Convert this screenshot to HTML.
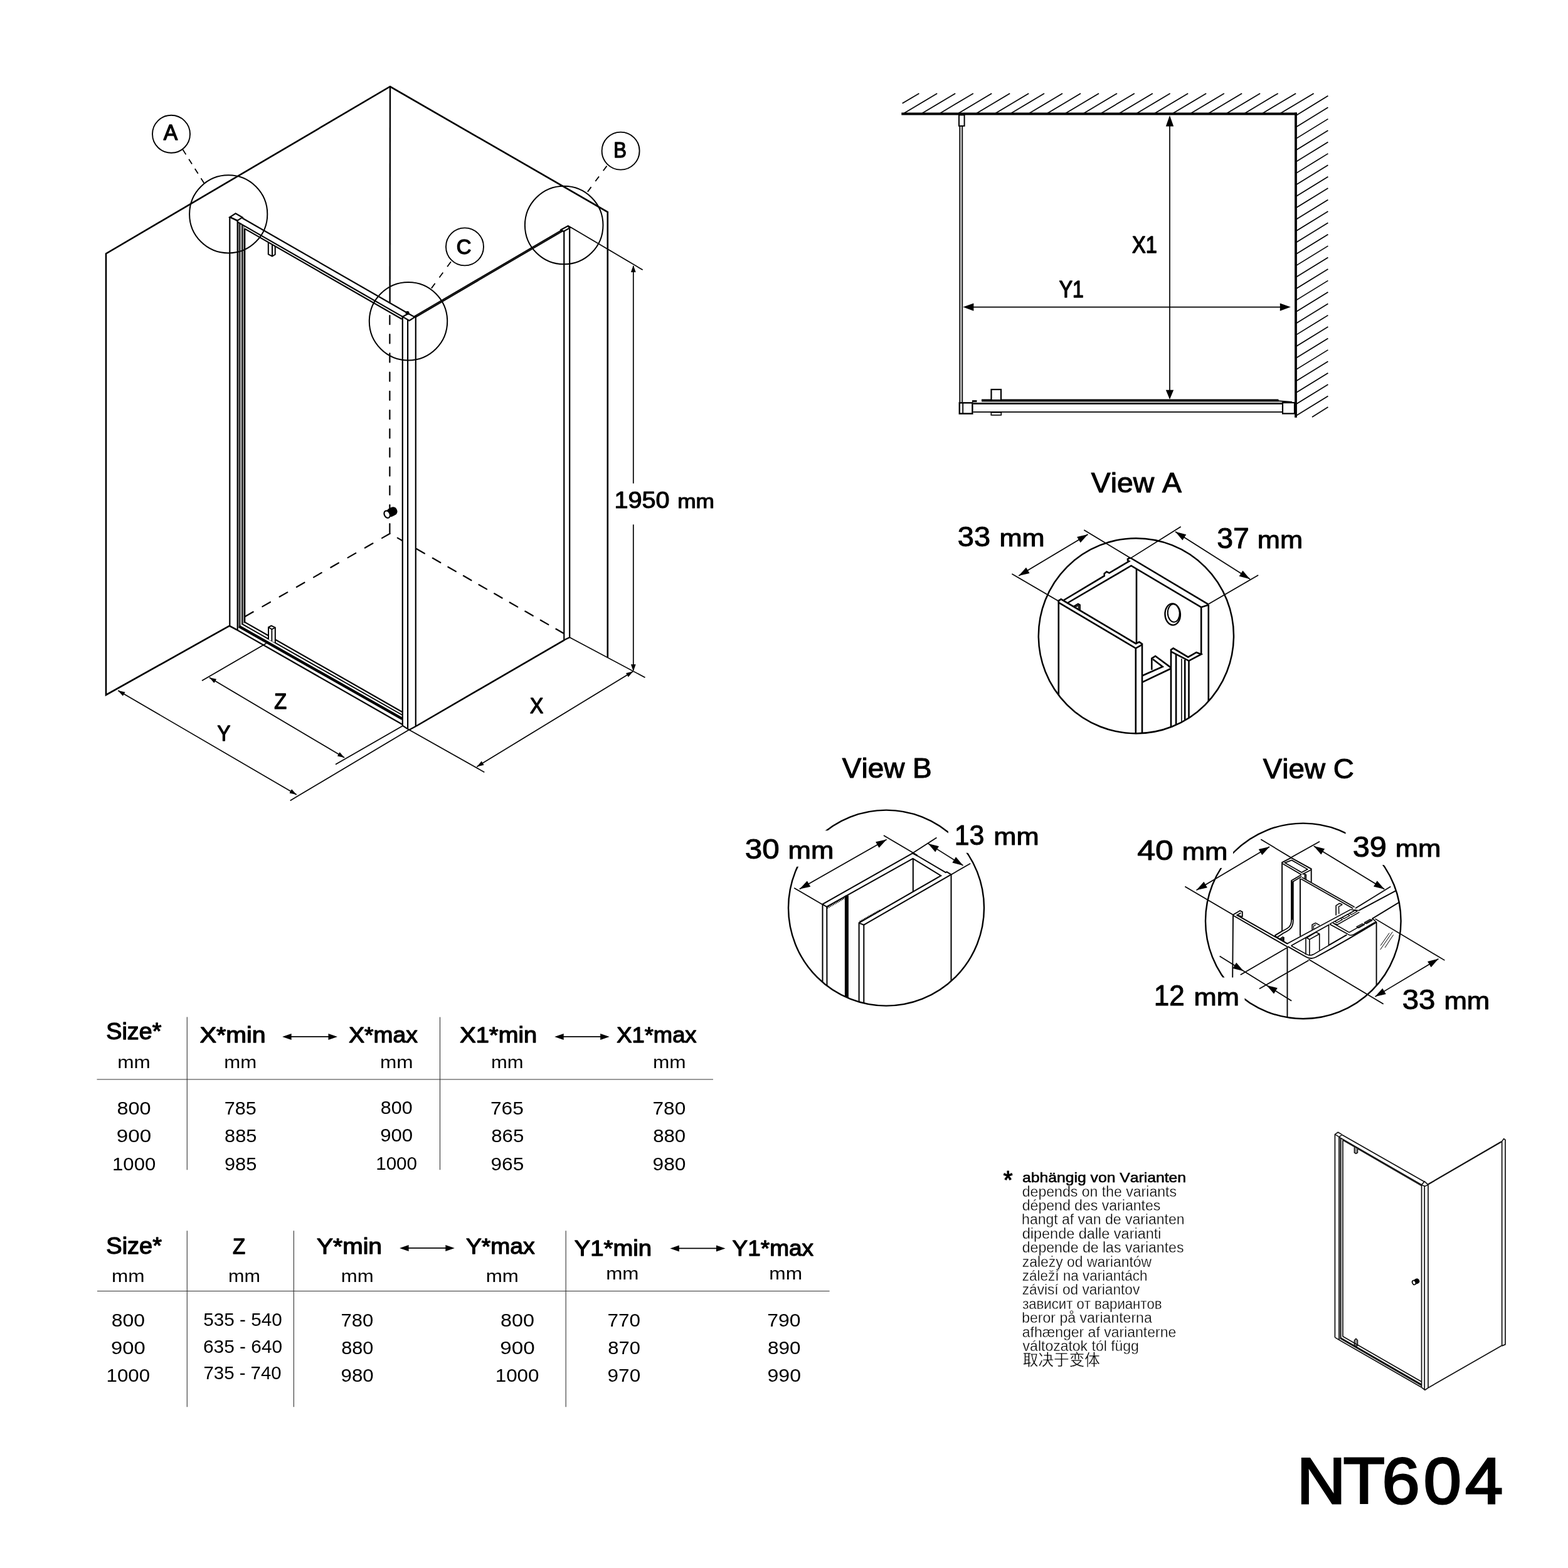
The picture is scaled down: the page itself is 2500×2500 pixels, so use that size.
<!DOCTYPE html>
<html lang="de">
<head>
<meta charset="utf-8">
<title>NT604</title>
<style>
html,body{margin:0;padding:0;background:#fff;}
body{width:2500px;height:2500px;font-family:"Liberation Sans","Noto Sans CJK SC",sans-serif;}
svg{display:block;will-change:transform;}
text{white-space:pre;font-kerning:none;}
</style>
</head>
<body>
<svg xmlns="http://www.w3.org/2000/svg" width="2500" height="2500" viewBox="0 0 2500 2500">
<defs>
<clipPath id="cA"><circle cx="1811.4" cy="1013.8" r="155.6"/></clipPath>
<clipPath id="cB"><circle cx="1413.0" cy="1447.6" r="156.0"/></clipPath>
<clipPath id="cC"><circle cx="2077.8" cy="1468.4" r="155.8"/></clipPath>
</defs>
<rect x="0" y="0" width="2500" height="2500" fill="#fff"/>
<polyline points="365.80,997.80 169.00,1108.00 169.00,404.50 622.00,138.00 968.80,338.00 968.80,1048.00" fill="none" stroke="#000" stroke-width="2.6" stroke-linejoin="miter" stroke-linecap="butt"/>
<line x1="622.00" y1="138.00" x2="621.60" y2="484.00" stroke="#000" stroke-width="2.4" stroke-linecap="butt"/>
<line x1="621.40" y1="503.00" x2="621.40" y2="851.00" stroke="#000" stroke-width="2.2" stroke-linecap="round" stroke-dasharray="14.2 16.0"/>
<line x1="621.70" y1="850.70" x2="390.90" y2="982.90" stroke="#000" stroke-width="2.2" stroke-linecap="round" stroke-dasharray="14.5 16.9"/>
<line x1="633.80" y1="857.65" x2="641.00" y2="861.79" stroke="#000" stroke-width="2.2" stroke-linecap="round"/>
<line x1="664.00" y1="875.00" x2="677.00" y2="882.47" stroke="#000" stroke-width="2.2" stroke-linecap="round"/>
<line x1="689.80" y1="889.82" x2="898.50" y2="1009.71" stroke="#000" stroke-width="2.2" stroke-linecap="round" stroke-dasharray="14.4 13.95"/>
<rect x="379.50" y="356.00" width="3.00" height="643.00" fill="#8a8a8a"/>
<rect x="386.50" y="360.00" width="3.60" height="634.00" fill="#8a8a8a"/>
<line x1="366.30" y1="345.70" x2="366.30" y2="998.00" stroke="#000" stroke-width="2.2" stroke-linecap="butt"/>
<line x1="378.70" y1="351.50" x2="378.70" y2="1004.00" stroke="#000" stroke-width="2.2" stroke-linecap="butt"/>
<line x1="382.50" y1="356.00" x2="382.50" y2="1000.00" stroke="#000" stroke-width="1.8" stroke-linecap="butt"/>
<line x1="386.00" y1="358.20" x2="386.00" y2="996.00" stroke="#000" stroke-width="1.8" stroke-linecap="butt"/>
<line x1="390.20" y1="364.60" x2="390.20" y2="992.00" stroke="#000" stroke-width="2.2" stroke-linecap="butt"/>
<polygon points="366.30,346.40 375.60,340.30 386.40,346.60 378.70,351.60" fill="#fff" stroke="#000" stroke-width="2.2" stroke-linejoin="miter" stroke-linecap="butt"/>
<line x1="366.30" y1="345.70" x2="378.70" y2="352.30" stroke="#000" stroke-width="2.2" stroke-linecap="butt"/>
<line x1="386.40" y1="347.80" x2="649.00" y2="498.70" stroke="#000" stroke-width="2.2" stroke-linecap="butt"/>
<line x1="378.70" y1="353.90" x2="641.80" y2="504.90" stroke="#000" stroke-width="2.2" stroke-linecap="butt"/>
<line x1="390.10" y1="364.60" x2="640.70" y2="508.80" stroke="#000" stroke-width="2.2" stroke-linecap="butt"/>
<polyline points="427.80,386.29 427.80,405.30 434.00,408.60 438.70,405.80 438.70,392.57" fill="none" stroke="#000" stroke-width="2.0" stroke-linejoin="miter" stroke-linecap="butt"/>
<line x1="434.00" y1="389.86" x2="434.00" y2="408.60" stroke="#000" stroke-width="2.0" stroke-linecap="butt"/>
<line x1="389.70" y1="991.60" x2="641.40" y2="1135.20" stroke="#000" stroke-width="2.2" stroke-linecap="butt"/>
<line x1="386.00" y1="994.90" x2="641.40" y2="1140.00" stroke="#000" stroke-width="1.9" stroke-linecap="butt"/>
<line x1="381.00" y1="998.60" x2="641.40" y2="1146.20" stroke="#000" stroke-width="4.4" stroke-linecap="butt"/>
<line x1="377.30" y1="1004.00" x2="641.40" y2="1155.00" stroke="#000" stroke-width="2.2" stroke-linecap="butt"/>
<line x1="365.80" y1="997.80" x2="377.60" y2="1004.20" stroke="#000" stroke-width="2.6" stroke-linecap="butt"/>
<polyline points="428.00,1019.50 428.00,1000.20 432.60,997.60 438.80,1000.60 438.80,1025.00" fill="#fff" stroke="#000" stroke-width="2.0" stroke-linejoin="miter" stroke-linecap="butt"/>
<polyline points="428.00,1000.20 433.40,1003.20 438.80,1000.60" fill="none" stroke="#000" stroke-width="1.8" stroke-linejoin="miter" stroke-linecap="butt"/>
<line x1="433.40" y1="1003.20" x2="433.40" y2="1022.00" stroke="#000" stroke-width="1.8" stroke-linecap="butt"/>
<line x1="641.80" y1="504.90" x2="641.80" y2="1157.00" stroke="#000" stroke-width="2.2" stroke-linecap="butt"/>
<line x1="650.10" y1="510.00" x2="650.10" y2="1163.00" stroke="#000" stroke-width="2.2" stroke-linecap="butt"/>
<line x1="662.80" y1="506.00" x2="662.80" y2="1158.20" stroke="#000" stroke-width="2.2" stroke-linecap="butt"/>
<polygon points="641.80,504.90 651.20,500.00 661.20,505.60 652.60,511.20" fill="#fff" stroke="#000" stroke-width="2.2" stroke-linejoin="miter" stroke-linecap="butt"/>
<circle cx="649.60" cy="499.00" r="2.30" fill="#000" stroke="#000" stroke-width="1.5"/>
<polyline points="641.80,1156.80 652.40,1163.80 663.00,1158.00" fill="none" stroke="#000" stroke-width="2.2" stroke-linejoin="miter" stroke-linecap="butt"/>
<line x1="661.00" y1="505.40" x2="896.60" y2="367.50" stroke="#000" stroke-width="4.0" stroke-linecap="butt"/>
<line x1="664.00" y1="503.65" x2="894.00" y2="369.00" stroke="#555" stroke-width="0.6" stroke-linecap="butt"/>
<line x1="663.00" y1="1158.00" x2="900.00" y2="1020.40" stroke="#000" stroke-width="2.6" stroke-linecap="butt"/>
<line x1="899.30" y1="369.00" x2="899.30" y2="1020.80" stroke="#000" stroke-width="2.2" stroke-linecap="butt"/>
<line x1="908.20" y1="364.50" x2="908.20" y2="1016.40" stroke="#000" stroke-width="2.2" stroke-linecap="butt"/>
<polygon points="894.50,366.30 905.10,360.50 908.80,363.20 898.60,369.00" fill="#fff" stroke="#000" stroke-width="2.2" stroke-linejoin="miter" stroke-linecap="butt"/>
<line x1="899.30" y1="1020.60" x2="908.20" y2="1016.20" stroke="#000" stroke-width="2.2" stroke-linecap="butt"/>
<circle cx="364.20" cy="341.40" r="62.10" fill="none" stroke="#000" stroke-width="2.0"/>
<circle cx="899.20" cy="359.00" r="62.30" fill="none" stroke="#000" stroke-width="2.0"/>
<circle cx="651.00" cy="512.30" r="62.20" fill="none" stroke="#000" stroke-width="2.0"/>
<circle cx="273.00" cy="213.80" r="30.00" fill="none" stroke="#000" stroke-width="1.9"/>
<circle cx="989.60" cy="240.60" r="30.00" fill="none" stroke="#000" stroke-width="1.9"/>
<circle cx="741.00" cy="393.40" r="30.00" fill="none" stroke="#000" stroke-width="1.9"/>
<line x1="291.50" y1="238.60" x2="325.60" y2="292.30" stroke="#000" stroke-width="1.8" stroke-linecap="butt" stroke-dasharray="9.2 8.8"/>
<line x1="967.50" y1="264.60" x2="936.30" y2="306.60" stroke="#000" stroke-width="1.8" stroke-linecap="butt" stroke-dasharray="9.6 11.3"/>
<line x1="719.00" y1="417.30" x2="687.90" y2="459.60" stroke="#000" stroke-width="1.8" stroke-linecap="butt" stroke-dasharray="9.9 11.5"/>
<g transform="translate(620.4 818.4) rotate(-27)"><rect x="-3.4" y="-6.9" width="17.2" height="13.8" rx="6.2" ry="6.9" fill="#000"/><ellipse cx="-3.6" cy="0" rx="4.4" ry="6.0" fill="#fff" stroke="#000" stroke-width="2.2"/></g>
<line x1="905.10" y1="359.50" x2="1024.70" y2="430.30" stroke="#000" stroke-width="1.7" stroke-linecap="butt"/>
<line x1="908.30" y1="1016.30" x2="1028.50" y2="1080.20" stroke="#000" stroke-width="1.7" stroke-linecap="butt"/>
<line x1="1009.80" y1="424.00" x2="1009.80" y2="770.70" stroke="#000" stroke-width="1.7" stroke-linecap="butt"/>
<line x1="1009.80" y1="836.30" x2="1009.80" y2="1069.00" stroke="#000" stroke-width="1.7" stroke-linecap="butt"/>
<polygon points="1009.80,422.90 1013.70,433.90 1005.90,433.90" fill="#000"/>
<polygon points="1009.80,1070.30 1005.90,1059.30 1013.70,1059.30" fill="#000"/>
<line x1="652.60" y1="1163.70" x2="772.30" y2="1231.20" stroke="#000" stroke-width="1.7" stroke-linecap="butt"/>
<line x1="760.30" y1="1222.40" x2="1009.30" y2="1070.60" stroke="#000" stroke-width="1.7" stroke-linecap="butt"/>
<polygon points="760.30,1222.40 767.82,1213.60 771.57,1219.75" fill="#000"/>
<polygon points="1009.30,1070.60 1001.78,1079.40 998.03,1073.25" fill="#000"/>
<line x1="651.80" y1="1163.70" x2="462.70" y2="1276.40" stroke="#000" stroke-width="1.7" stroke-linecap="butt"/>
<line x1="188.20" y1="1101.00" x2="472.80" y2="1267.00" stroke="#000" stroke-width="1.7" stroke-linecap="butt"/>
<polygon points="188.20,1101.00 199.52,1103.43 195.89,1109.65" fill="#000"/>
<polygon points="472.80,1267.00 461.48,1264.57 465.11,1258.35" fill="#000"/>
<line x1="424.50" y1="1025.70" x2="322.00" y2="1085.30" stroke="#000" stroke-width="1.7" stroke-linecap="butt"/>
<line x1="641.70" y1="1157.60" x2="535.00" y2="1218.80" stroke="#000" stroke-width="1.7" stroke-linecap="butt"/>
<line x1="333.80" y1="1080.20" x2="549.20" y2="1208.00" stroke="#000" stroke-width="1.7" stroke-linecap="butt"/>
<polygon points="333.80,1080.20 345.10,1082.72 341.42,1088.91" fill="#000"/>
<polygon points="549.20,1208.00 537.90,1205.48 541.58,1199.29" fill="#000"/>
<text transform="translate(260.63 223.00) scale(0.9763 1)" font-family="'Liberation Sans', sans-serif" font-size="34.45" font-weight="400" fill="#000" stroke="#000" stroke-width="1.4" stroke-linejoin="round">A</text>
<text transform="translate(978.36 250.90) scale(0.8742 1)" font-family="'Liberation Sans', sans-serif" font-size="35.47" font-weight="400" fill="#000" stroke="#000" stroke-width="1.4" stroke-linejoin="round">B</text>
<text transform="translate(727.83 405.00) scale(0.9825 1)" font-family="'Liberation Sans', sans-serif" font-size="33.43" font-weight="400" fill="#000" stroke="#000" stroke-width="1.4" stroke-linejoin="round">C</text>
<text transform="translate(437.17 1130.00) scale(0.9392 1)" font-family="'Liberation Sans', sans-serif" font-size="34.59" font-weight="400" fill="#000" stroke="#000" stroke-width="1.4" stroke-linejoin="round">Z</text>
<text transform="translate(346.61 1181.10) scale(0.9047 1)" font-family="'Liberation Sans', sans-serif" font-size="34.59" font-weight="400" fill="#000" stroke="#000" stroke-width="1.4" stroke-linejoin="round">Y</text>
<text transform="translate(844.98 1137.30) scale(0.8999 1)" font-family="'Liberation Sans', sans-serif" font-size="35.47" font-weight="400" fill="#000" stroke="#000" stroke-width="1.4" stroke-linejoin="round">X</text>
<text transform="translate(979.53 810.35) scale(1.0921 1)" font-family="'Liberation Sans', sans-serif" font-size="36.25" font-weight="400" fill="#000" stroke="#000" stroke-width="1.1" stroke-linejoin="round">1950</text>
<text transform="translate(1080.21 810.35) scale(1.1159 1)" font-family="'Liberation Sans', sans-serif" font-size="31.61" font-weight="400" fill="#000" stroke="#000" stroke-width="1.1" stroke-linejoin="round">mm</text>
<line x1="1438.70" y1="164.80" x2="1465.40" y2="148.90" stroke="#000" stroke-width="1.7" stroke-linecap="butt"/>
<line x1="1441.40" y1="180.50" x2="1494.20" y2="148.90" stroke="#000" stroke-width="1.7" stroke-linecap="butt"/>
<line x1="1470.40" y1="180.50" x2="1523.20" y2="148.90" stroke="#000" stroke-width="1.7" stroke-linecap="butt"/>
<line x1="1499.00" y1="180.50" x2="1551.80" y2="148.90" stroke="#000" stroke-width="1.7" stroke-linecap="butt"/>
<line x1="1528.40" y1="180.50" x2="1581.20" y2="148.90" stroke="#000" stroke-width="1.7" stroke-linecap="butt"/>
<line x1="1557.30" y1="180.50" x2="1610.10" y2="148.90" stroke="#000" stroke-width="1.7" stroke-linecap="butt"/>
<line x1="1587.40" y1="180.50" x2="1640.20" y2="148.90" stroke="#000" stroke-width="1.7" stroke-linecap="butt"/>
<line x1="1612.20" y1="180.50" x2="1665.00" y2="148.90" stroke="#000" stroke-width="1.7" stroke-linecap="butt"/>
<line x1="1641.20" y1="180.50" x2="1694.00" y2="148.90" stroke="#000" stroke-width="1.7" stroke-linecap="butt"/>
<line x1="1670.20" y1="180.50" x2="1723.00" y2="148.90" stroke="#000" stroke-width="1.7" stroke-linecap="butt"/>
<line x1="1699.20" y1="180.50" x2="1752.00" y2="148.90" stroke="#000" stroke-width="1.7" stroke-linecap="butt"/>
<line x1="1728.20" y1="180.50" x2="1781.00" y2="148.90" stroke="#000" stroke-width="1.7" stroke-linecap="butt"/>
<line x1="1756.00" y1="180.50" x2="1808.80" y2="148.90" stroke="#000" stroke-width="1.7" stroke-linecap="butt"/>
<line x1="1785.00" y1="180.50" x2="1837.80" y2="148.90" stroke="#000" stroke-width="1.7" stroke-linecap="butt"/>
<line x1="1812.80" y1="180.50" x2="1865.60" y2="148.90" stroke="#000" stroke-width="1.7" stroke-linecap="butt"/>
<line x1="1841.40" y1="180.50" x2="1894.20" y2="148.90" stroke="#000" stroke-width="1.7" stroke-linecap="butt"/>
<line x1="1870.40" y1="180.50" x2="1923.20" y2="148.90" stroke="#000" stroke-width="1.7" stroke-linecap="butt"/>
<line x1="1899.00" y1="180.50" x2="1951.80" y2="148.90" stroke="#000" stroke-width="1.7" stroke-linecap="butt"/>
<line x1="1927.30" y1="180.50" x2="1980.10" y2="148.90" stroke="#000" stroke-width="1.7" stroke-linecap="butt"/>
<line x1="1956.30" y1="180.50" x2="2009.10" y2="148.90" stroke="#000" stroke-width="1.7" stroke-linecap="butt"/>
<line x1="1984.90" y1="180.50" x2="2037.70" y2="148.90" stroke="#000" stroke-width="1.7" stroke-linecap="butt"/>
<line x1="2013.30" y1="180.50" x2="2066.10" y2="148.90" stroke="#000" stroke-width="1.7" stroke-linecap="butt"/>
<line x1="2041.80" y1="180.50" x2="2094.60" y2="148.90" stroke="#000" stroke-width="1.7" stroke-linecap="butt"/>
<line x1="2067.00" y1="183.80" x2="2117.40" y2="152.80" stroke="#000" stroke-width="1.7" stroke-linecap="butt"/>
<line x1="2067.00" y1="202.21" x2="2117.40" y2="171.21" stroke="#000" stroke-width="1.7" stroke-linecap="butt"/>
<line x1="2067.00" y1="220.62" x2="2117.40" y2="189.62" stroke="#000" stroke-width="1.7" stroke-linecap="butt"/>
<line x1="2067.00" y1="239.03" x2="2117.40" y2="208.03" stroke="#000" stroke-width="1.7" stroke-linecap="butt"/>
<line x1="2067.00" y1="257.45" x2="2117.40" y2="226.45" stroke="#000" stroke-width="1.7" stroke-linecap="butt"/>
<line x1="2067.00" y1="275.86" x2="2117.40" y2="244.86" stroke="#000" stroke-width="1.7" stroke-linecap="butt"/>
<line x1="2067.00" y1="294.27" x2="2117.40" y2="263.27" stroke="#000" stroke-width="1.7" stroke-linecap="butt"/>
<line x1="2067.00" y1="312.68" x2="2117.40" y2="281.68" stroke="#000" stroke-width="1.7" stroke-linecap="butt"/>
<line x1="2067.00" y1="331.09" x2="2117.40" y2="300.09" stroke="#000" stroke-width="1.7" stroke-linecap="butt"/>
<line x1="2067.00" y1="349.50" x2="2117.40" y2="318.50" stroke="#000" stroke-width="1.7" stroke-linecap="butt"/>
<line x1="2067.00" y1="367.92" x2="2117.40" y2="336.92" stroke="#000" stroke-width="1.7" stroke-linecap="butt"/>
<line x1="2067.00" y1="386.33" x2="2117.40" y2="355.33" stroke="#000" stroke-width="1.7" stroke-linecap="butt"/>
<line x1="2067.00" y1="404.74" x2="2117.40" y2="373.74" stroke="#000" stroke-width="1.7" stroke-linecap="butt"/>
<line x1="2067.00" y1="423.15" x2="2117.40" y2="392.15" stroke="#000" stroke-width="1.7" stroke-linecap="butt"/>
<line x1="2067.00" y1="441.56" x2="2117.40" y2="410.56" stroke="#000" stroke-width="1.7" stroke-linecap="butt"/>
<line x1="2067.00" y1="459.97" x2="2117.40" y2="428.97" stroke="#000" stroke-width="1.7" stroke-linecap="butt"/>
<line x1="2067.00" y1="478.38" x2="2117.40" y2="447.38" stroke="#000" stroke-width="1.7" stroke-linecap="butt"/>
<line x1="2067.00" y1="496.80" x2="2117.40" y2="465.80" stroke="#000" stroke-width="1.7" stroke-linecap="butt"/>
<line x1="2067.00" y1="515.21" x2="2117.40" y2="484.21" stroke="#000" stroke-width="1.7" stroke-linecap="butt"/>
<line x1="2067.00" y1="533.62" x2="2117.40" y2="502.62" stroke="#000" stroke-width="1.7" stroke-linecap="butt"/>
<line x1="2067.00" y1="552.03" x2="2117.40" y2="521.03" stroke="#000" stroke-width="1.7" stroke-linecap="butt"/>
<line x1="2067.00" y1="570.44" x2="2117.40" y2="539.44" stroke="#000" stroke-width="1.7" stroke-linecap="butt"/>
<line x1="2067.00" y1="588.85" x2="2117.40" y2="557.85" stroke="#000" stroke-width="1.7" stroke-linecap="butt"/>
<line x1="2067.00" y1="607.27" x2="2117.40" y2="576.27" stroke="#000" stroke-width="1.7" stroke-linecap="butt"/>
<line x1="2067.00" y1="625.68" x2="2117.40" y2="594.68" stroke="#000" stroke-width="1.7" stroke-linecap="butt"/>
<line x1="2067.00" y1="644.09" x2="2117.40" y2="613.09" stroke="#000" stroke-width="1.7" stroke-linecap="butt"/>
<line x1="2067.00" y1="662.50" x2="2117.40" y2="631.50" stroke="#000" stroke-width="1.7" stroke-linecap="butt"/>
<line x1="2092.00" y1="665.00" x2="2117.40" y2="649.00" stroke="#000" stroke-width="1.7" stroke-linecap="butt"/>
<line x1="1437.30" y1="181.40" x2="2068.00" y2="181.40" stroke="#000" stroke-width="4.0" stroke-linecap="butt"/>
<line x1="2066.00" y1="179.40" x2="2066.00" y2="665.80" stroke="#000" stroke-width="3.8" stroke-linecap="butt"/>
<rect x="1530.20" y="201.00" width="4.20" height="440.00" fill="#c8c8c8"/>
<line x1="1530.20" y1="201.00" x2="1530.20" y2="641.00" stroke="#000" stroke-width="1.6" stroke-linecap="butt"/>
<line x1="1534.40" y1="201.00" x2="1534.40" y2="641.00" stroke="#000" stroke-width="1.6" stroke-linecap="butt"/>
<rect x="1529.00" y="183.40" width="8.60" height="17.40" fill="#fff" stroke="#000" stroke-width="2.0"/>
<line x1="1565.00" y1="638.50" x2="2038.50" y2="638.50" stroke="#000" stroke-width="3.8" stroke-linecap="butt"/>
<line x1="1550.00" y1="639.60" x2="1557.50" y2="639.60" stroke="#000" stroke-width="3.0" stroke-linecap="butt"/>
<line x1="1551.50" y1="643.40" x2="2044.30" y2="643.40" stroke="#000" stroke-width="2.8" stroke-linecap="butt"/>
<line x1="1551.50" y1="656.90" x2="2044.30" y2="656.90" stroke="#000" stroke-width="1.8" stroke-linecap="butt"/>
<line x1="2038.00" y1="639.30" x2="2060.00" y2="641.00" stroke="#000" stroke-width="2.0" stroke-linecap="butt"/>
<rect x="1529.80" y="642.30" width="20.60" height="17.20" fill="#fff" stroke="#000" stroke-width="2.4"/>
<line x1="1535.20" y1="642.30" x2="1535.20" y2="659.50" stroke="#000" stroke-width="1.8" stroke-linecap="butt"/>
<rect x="2045.00" y="642.00" width="19.00" height="17.40" fill="#fff" stroke="#000" stroke-width="2.2"/>
<rect x="1580.50" y="621.00" width="15.50" height="17.00" fill="#fff" stroke="#000" stroke-width="2.2"/>
<rect x="1580.30" y="657.60" width="16.00" height="4.20" fill="#fff" stroke="#000" stroke-width="1.6"/>
<line x1="1865.00" y1="190.00" x2="1865.00" y2="632.00" stroke="#000" stroke-width="1.7" stroke-linecap="butt"/>
<polygon points="1865.00,184.00 1871.20,201.40 1858.80,201.40" fill="#000"/>
<polygon points="1865.00,636.80 1858.80,621.80 1871.20,621.80" fill="#000"/>
<line x1="1540.00" y1="489.60" x2="2052.00" y2="489.60" stroke="#000" stroke-width="1.7" stroke-linecap="butt"/>
<polygon points="1535.40,489.60 1552.40,483.40 1552.40,495.80" fill="#000"/>
<polygon points="2057.80,489.60 2040.80,495.80 2040.80,483.40" fill="#000"/>
<text transform="translate(1805.02 402.75) scale(0.8784 1)" font-family="'Liberation Sans', sans-serif" font-size="37.06" font-weight="400" fill="#000" stroke="#000" stroke-width="1.5" stroke-linejoin="round">X1</text>
<text transform="translate(1688.65 473.95) scale(0.8812 1)" font-family="'Liberation Sans', sans-serif" font-size="36.34" font-weight="400" fill="#000" stroke="#000" stroke-width="1.5" stroke-linejoin="round">Y1</text>
<text transform="translate(1739.85 784.75) scale(1.0316 1)" font-family="'Liberation Sans', sans-serif" font-size="44.91" font-weight="400" fill="#000" stroke="#000" stroke-width="1.1" stroke-linejoin="round">View A</text>
<line x1="1613.40" y1="914.90" x2="1687.90" y2="958.40" stroke="#000" stroke-width="1.7" stroke-linecap="butt"/>
<line x1="1728.30" y1="845.00" x2="1802.80" y2="890.00" stroke="#000" stroke-width="1.7" stroke-linecap="butt"/>
<line x1="1624.20" y1="918.00" x2="1734.50" y2="852.00" stroke="#000" stroke-width="1.7" stroke-linecap="butt"/>
<polygon points="1624.20,918.00 1636.02,904.64 1641.56,913.90" fill="#000"/>
<polygon points="1734.50,852.00 1722.68,865.36 1717.14,856.10" fill="#000"/>
<line x1="1802.00" y1="890.40" x2="1882.70" y2="839.80" stroke="#000" stroke-width="1.7" stroke-linecap="butt"/>
<line x1="1927.00" y1="963.00" x2="2006.20" y2="917.10" stroke="#000" stroke-width="1.7" stroke-linecap="butt"/>
<line x1="1874.00" y1="847.80" x2="1992.90" y2="923.30" stroke="#000" stroke-width="1.7" stroke-linecap="butt"/>
<polygon points="1874.00,847.80 1891.25,852.35 1885.46,861.47" fill="#000"/>
<polygon points="1992.90,923.30 1975.65,918.75 1981.44,909.63" fill="#000"/>
<g clip-path="url(#cA)">
<line x1="1687.80" y1="958.50" x2="1687.80" y2="1200.00" stroke="#000" stroke-width="2.6" stroke-linecap="butt"/>
<polyline points="1687.80,959.90 1687.80,957.80 1691.70,955.30 1811.00,1026.20 1816.40,1023.60 1821.00,1026.60 1821.00,1200.00" fill="none" stroke="#000" stroke-width="2.6" stroke-linejoin="miter" stroke-linecap="butt"/>
<polyline points="1687.80,960.60 1810.80,1033.60 1821.00,1027.80" fill="none" stroke="#000" stroke-width="2.6" stroke-linejoin="miter" stroke-linecap="butt"/>
<line x1="1810.80" y1="1033.00" x2="1810.80" y2="1200.00" stroke="#000" stroke-width="2.6" stroke-linecap="butt"/>
<polyline points="1695.90,957.00 1760.70,918.20 1760.70,914.60 1764.40,911.60 1768.60,913.60 1800.20,894.80 1798.00,893.60 1798.00,891.30 1802.50,889.00" fill="none" stroke="#000" stroke-width="2.6" stroke-linejoin="miter" stroke-linecap="butt"/>
<polyline points="1702.70,961.00 1803.50,902.00 1915.10,968.20 1926.70,964.60" fill="none" stroke="#000" stroke-width="2.6" stroke-linejoin="miter" stroke-linecap="butt"/>
<line x1="1802.50" y1="889.50" x2="1926.70" y2="963.60" stroke="#000" stroke-width="2.6" stroke-linecap="butt"/>
<line x1="1915.20" y1="968.10" x2="1915.20" y2="1043.50" stroke="#000" stroke-width="2.6" stroke-linecap="butt"/>
<line x1="1926.80" y1="964.00" x2="1926.80" y2="1200.00" stroke="#000" stroke-width="2.6" stroke-linecap="butt"/>
<line x1="1812.00" y1="907.00" x2="1812.00" y2="1026.00" stroke="#000" stroke-width="2.6" stroke-linecap="butt"/>
<polyline points="1711.40,967.30 1718.90,962.80 1721.80,964.40 1721.80,973.40" fill="none" stroke="#000" stroke-width="2.2" stroke-linejoin="miter" stroke-linecap="butt"/>
<polyline points="1714.00,968.00 1719.60,965.00 1719.60,972.00" fill="none" stroke="#000" stroke-width="1.8" stroke-linejoin="miter" stroke-linecap="butt"/>
<ellipse cx="1869.70" cy="979.50" rx="12.20" ry="17.10" fill="none" stroke="#000" stroke-width="2.4" transform="rotate(-3 1869.70 979.50)"/>
<ellipse cx="1871.30" cy="977.50" rx="9.50" ry="14.30" fill="none" stroke="#000" stroke-width="2.0" transform="rotate(-3 1871.30 977.50)"/>
<polyline points="1836.30,1068.00 1836.30,1049.80 1842.10,1046.00 1866.80,1064.40" fill="none" stroke="#000" stroke-width="2.6" stroke-linejoin="miter" stroke-linecap="butt"/>
<polyline points="1838.00,1051.00 1853.70,1063.00 1821.40,1077.20" fill="none" stroke="#000" stroke-width="2.6" stroke-linejoin="miter" stroke-linecap="butt"/>
<line x1="1866.80" y1="1066.00" x2="1821.40" y2="1087.60" stroke="#000" stroke-width="2.6" stroke-linecap="butt"/>
<polyline points="1867.00,1200.00 1867.00,1035.90 1870.70,1033.60 1894.30,1047.70 1907.50,1040.20 1915.20,1043.10 1895.50,1053.60 1867.00,1038.80" fill="none" stroke="#000" stroke-width="2.6" stroke-linejoin="miter" stroke-linecap="butt"/>
<line x1="1875.10" y1="1042.70" x2="1875.10" y2="1200.00" stroke="#000" stroke-width="2.6" stroke-linecap="butt"/>
<line x1="1883.90" y1="1050.20" x2="1883.90" y2="1200.00" stroke="#000" stroke-width="1.6" stroke-linecap="butt"/>
<line x1="1889.20" y1="1051.80" x2="1889.20" y2="1200.00" stroke="#000" stroke-width="2.6" stroke-linecap="butt"/>
<line x1="1895.50" y1="1053.50" x2="1895.50" y2="1200.00" stroke="#000" stroke-width="2.6" stroke-linecap="butt"/>
</g>
<circle cx="1811.40" cy="1013.80" r="155.60" fill="none" stroke="#000" stroke-width="2.5"/>
<text transform="translate(1526.71 870.90) scale(1.0431 1)" font-family="'Liberation Sans', sans-serif" font-size="45.13" font-weight="400" fill="#000" stroke="#000" stroke-width="1.0" stroke-linejoin="round">33</text>
<text transform="translate(1593.52 870.90) scale(1.1212 1)" font-family="'Liberation Sans', sans-serif" font-size="38.61" font-weight="400" fill="#000" stroke="#000" stroke-width="1.0" stroke-linejoin="round">mm</text>
<text transform="translate(1940.13 874.30) scale(1.0151 1)" font-family="'Liberation Sans', sans-serif" font-size="45.70" font-weight="400" fill="#000" stroke="#000" stroke-width="1.0" stroke-linejoin="round">37</text>
<text transform="translate(2004.72 874.30) scale(1.1083 1)" font-family="'Liberation Sans', sans-serif" font-size="39.18" font-weight="400" fill="#000" stroke="#000" stroke-width="1.0" stroke-linejoin="round">mm</text>
<text transform="translate(1342.85 1240.05) scale(1.0393 1)" font-family="'Liberation Sans', sans-serif" font-size="44.19" font-weight="400" fill="#000" stroke="#000" stroke-width="1.1" stroke-linejoin="round">View B</text>
<circle cx="1413.00" cy="1447.60" r="156.00" fill="none" stroke="#000" stroke-width="2.4"/>
<rect x="1176.60" y="1324.30" width="161.40" height="57.40" fill="#fff"/>
<rect x="1511.90" y="1302.20" width="153.30" height="57.60" fill="#fff"/>
<line x1="1266.20" y1="1415.80" x2="1311.50" y2="1442.30" stroke="#000" stroke-width="1.7" stroke-linecap="butt"/>
<line x1="1408.90" y1="1332.10" x2="1462.70" y2="1363.70" stroke="#000" stroke-width="1.7" stroke-linecap="butt"/>
<line x1="1274.80" y1="1417.50" x2="1413.60" y2="1338.60" stroke="#000" stroke-width="1.7" stroke-linecap="butt"/>
<polygon points="1274.80,1417.50 1286.91,1404.40 1292.25,1413.79" fill="#000"/>
<polygon points="1413.60,1338.60 1401.49,1351.70 1396.15,1342.31" fill="#000"/>
<line x1="1455.00" y1="1360.30" x2="1493.40" y2="1335.50" stroke="#000" stroke-width="1.7" stroke-linecap="butt"/>
<line x1="1516.50" y1="1394.40" x2="1547.20" y2="1376.80" stroke="#000" stroke-width="1.7" stroke-linecap="butt"/>
<line x1="1479.70" y1="1344.90" x2="1535.60" y2="1379.90" stroke="#000" stroke-width="1.7" stroke-linecap="butt"/>
<polygon points="1479.70,1344.90 1496.97,1349.34 1491.24,1358.50" fill="#000"/>
<polygon points="1535.60,1379.90 1518.33,1375.46 1524.06,1366.30" fill="#000"/>
<g clip-path="url(#cB)">
<polyline points="1311.50,1640.00 1311.50,1441.60 1455.00,1360.30 1462.70,1364.50 1507.90,1391.00 1509.60,1390.20 1516.50,1394.40 1516.50,1640.00" fill="none" stroke="#000" stroke-width="2.0" stroke-linejoin="miter" stroke-linecap="butt"/>
<polyline points="1318.60,1640.00 1318.30,1445.60 1455.50,1368.80 1500.20,1396.20 1369.60,1471.30 1369.60,1640.00" fill="none" stroke="#000" stroke-width="2.0" stroke-linejoin="miter" stroke-linecap="butt"/>
<line x1="1311.50" y1="1441.80" x2="1318.30" y2="1446.00" stroke="#000" stroke-width="2.0" stroke-linecap="butt"/>
<polyline points="1516.50,1394.40 1377.30,1474.70 1369.60,1471.60" fill="none" stroke="#000" stroke-width="2.0" stroke-linejoin="miter" stroke-linecap="butt"/>
<line x1="1377.30" y1="1474.70" x2="1377.30" y2="1640.00" stroke="#000" stroke-width="2.0" stroke-linecap="butt"/>
<line x1="1455.80" y1="1368.80" x2="1455.80" y2="1421.80" stroke="#000" stroke-width="2.0" stroke-linecap="butt"/>
<line x1="1349.90" y1="1427.70" x2="1349.90" y2="1640.00" stroke="#000" stroke-width="6.0" stroke-linecap="butt"/>
<line x1="1318.60" y1="1447.50" x2="1348.00" y2="1430.60" stroke="#000" stroke-width="3.0" stroke-linecap="butt" stroke-dasharray="1.5 1.2"/>
<line x1="1371.00" y1="1469.60" x2="1402.90" y2="1451.60" stroke="#000" stroke-width="3.0" stroke-linecap="butt" stroke-dasharray="1.5 1.2"/>
</g>
<text transform="translate(1187.72 1368.70) scale(1.0995 1)" font-family="'Liberation Sans', sans-serif" font-size="44.99" font-weight="400" fill="#000" stroke="#000" stroke-width="1.0" stroke-linejoin="round">30</text>
<text transform="translate(1256.60 1368.70) scale(1.1425 1)" font-family="'Liberation Sans', sans-serif" font-size="38.24" font-weight="400" fill="#000" stroke="#000" stroke-width="1.0" stroke-linejoin="round">mm</text>
<text transform="translate(1521.63 1346.80) scale(0.9484 1)" font-family="'Liberation Sans', sans-serif" font-size="45.27" font-weight="400" fill="#000" stroke="#000" stroke-width="1.0" stroke-linejoin="round">13</text>
<text transform="translate(1584.22 1346.80) scale(1.1246 1)" font-family="'Liberation Sans', sans-serif" font-size="38.61" font-weight="400" fill="#000" stroke="#000" stroke-width="1.0" stroke-linejoin="round">mm</text>
<text transform="translate(2013.85 1240.75) scale(1.0189 1)" font-family="'Liberation Sans', sans-serif" font-size="44.91" font-weight="400" fill="#000" stroke="#000" stroke-width="1.1" stroke-linejoin="round">View C</text>
<circle cx="2077.80" cy="1468.40" r="155.80" fill="none" stroke="#000" stroke-width="2.4"/>
<rect x="1801.50" y="1326.40" width="164.60" height="57.50" fill="#fff"/>
<rect x="2145.50" y="1321.40" width="160.60" height="57.70" fill="#fff"/>
<rect x="1830.10" y="1558.50" width="154.40" height="57.90" fill="#fff"/>
<line x1="1889.32" y1="1413.54" x2="1965.51" y2="1458.26" stroke="#000" stroke-width="1.7" stroke-linecap="butt"/>
<line x1="2010.23" y1="1338.34" x2="2058.26" y2="1367.16" stroke="#000" stroke-width="1.7" stroke-linecap="butt"/>
<line x1="1907.54" y1="1419.17" x2="2024.14" y2="1349.94" stroke="#000" stroke-width="1.7" stroke-linecap="butt"/>
<polygon points="1907.54,1419.17 1919.40,1405.85 1924.91,1415.14" fill="#000"/>
<polygon points="2024.14,1349.94 2012.28,1363.26 2006.77,1353.97" fill="#000"/>
<line x1="2058.26" y1="1367.16" x2="2103.98" y2="1341.66" stroke="#000" stroke-width="1.7" stroke-linecap="butt"/>
<line x1="2160.95" y1="1448.32" x2="2217.27" y2="1413.54" stroke="#000" stroke-width="1.7" stroke-linecap="butt"/>
<line x1="2094.70" y1="1348.94" x2="2207.33" y2="1417.85" stroke="#000" stroke-width="1.7" stroke-linecap="butt"/>
<polygon points="2094.70,1348.94 2112.02,1353.21 2106.38,1362.42" fill="#000"/>
<polygon points="2207.33,1417.85 2190.01,1413.58 2195.65,1404.37" fill="#000"/>
<line x1="2051.64" y1="1511.26" x2="1977.76" y2="1554.33" stroke="#000" stroke-width="1.7" stroke-linecap="butt"/>
<line x1="2086.42" y1="1531.14" x2="2007.91" y2="1576.52" stroke="#000" stroke-width="1.7" stroke-linecap="butt"/>
<line x1="1944.64" y1="1524.51" x2="2059.25" y2="1595.73" stroke="#000" stroke-width="1.7" stroke-linecap="butt"/>
<polygon points="1982.73,1548.36 1965.46,1543.92 1971.19,1534.77" fill="#000"/>
<polygon points="2019.50,1570.89 2036.78,1575.32 2031.06,1584.48" fill="#000"/>
<line x1="2086.42" y1="1529.48" x2="2205.67" y2="1600.70" stroke="#000" stroke-width="1.7" stroke-linecap="butt"/>
<line x1="2192.42" y1="1464.89" x2="2303.40" y2="1531.14" stroke="#000" stroke-width="1.7" stroke-linecap="butt"/>
<line x1="2192.42" y1="1589.11" x2="2293.46" y2="1528.82" stroke="#000" stroke-width="1.7" stroke-linecap="butt"/>
<polygon points="2192.42,1589.11 2204.25,1575.76 2209.79,1585.04" fill="#000"/>
<polygon points="2293.46,1528.82 2281.63,1542.17 2276.09,1532.89" fill="#000"/>
<g clip-path="url(#cC)">
<polyline points="1965.20,1558.50 1966.02,1458.54 1977.02,1452.02 1980.75,1453.88 1980.75,1462.27" fill="none" stroke="#000" stroke-width="1.9" stroke-linejoin="miter" stroke-linecap="butt"/>
<polyline points="1979.81,1461.34 1972.36,1459.01 1978.42,1455.47" fill="none" stroke="#000" stroke-width="1.7" stroke-linejoin="miter" stroke-linecap="butt"/>
<polyline points="1966.02,1459.47 2052.48,1509.50" fill="none" stroke="#000" stroke-width="1.9" stroke-linejoin="miter" stroke-linecap="butt"/>
<polyline points="1972.36,1459.19 2052.95,1504.85" fill="none" stroke="#000" stroke-width="1.9" stroke-linejoin="miter" stroke-linecap="butt"/>
<polyline points="2052.48,1509.50 2052.48,1657.45" fill="none" stroke="#000" stroke-width="1.9" stroke-linejoin="miter" stroke-linecap="butt"/>
<polyline points="2044.10,1484.16 2044.10,1375.16 2058.54,1367.70 2090.68,1385.40 2090.68,1406.83" fill="none" stroke="#000" stroke-width="1.9" stroke-linejoin="miter" stroke-linecap="butt"/>
<polygon points="2048.76,1375.62 2059.47,1371.43 2084.63,1385.87 2075.31,1390.99" fill="none" stroke="#000" stroke-width="1.7" stroke-linejoin="miter" stroke-linecap="butt"/>
<polyline points="2045.03,1377.02 2074.85,1394.53" fill="none" stroke="#000" stroke-width="1.7" stroke-linejoin="miter" stroke-linecap="butt"/>
<polyline points="2090.68,1386.80 2077.64,1393.32 2080.44,1393.79 2082.30,1394.72 2082.30,1402.17" fill="none" stroke="#000" stroke-width="1.7" stroke-linejoin="miter" stroke-linecap="butt"/>
<polyline points="2080.44,1394.72 2080.44,1400.78" fill="none" stroke="#000" stroke-width="1.6" stroke-linejoin="miter" stroke-linecap="butt"/>
<path d="M2074.85 1394.72 L2059.01 1404.04 L2059.01 1466.46 C2059.01 1478.57 2052.48 1480.44 2044.10 1484.63 L2032.45 1491.62" fill="none" stroke="#000" stroke-width="1.8" stroke-linejoin="round"/>
<path d="M2075.31 1397.52 L2061.80 1405.43 L2061.80 1467.39 C2061.80 1481.37 2053.42 1484.16 2045.96 1487.89 L2036.18 1494.41" fill="none" stroke="#000" stroke-width="1.8" stroke-linejoin="round"/>
<line x1="2060.12" y1="1404.97" x2="2060.12" y2="1466.46" stroke="#000" stroke-width="3.0" stroke-linecap="butt"/>
<polyline points="2072.98,1400.78 2072.98,1492.55" fill="none" stroke="#000" stroke-width="1.9" stroke-linejoin="miter" stroke-linecap="butt"/>
<polyline points="2032.45,1491.62 2036.18,1494.41 2052.95,1504.85" fill="none" stroke="#000" stroke-width="1.7" stroke-linejoin="miter" stroke-linecap="butt"/>
<polyline points="2039.91,1497.67 2045.03,1493.94 2046.89,1494.88 2046.89,1500.93" fill="none" stroke="#000" stroke-width="1.7" stroke-linejoin="miter" stroke-linecap="butt"/>
<polyline points="2041.77,1498.14 2045.50,1496.27 2045.50,1500.00" fill="none" stroke="#000" stroke-width="1.5" stroke-linejoin="miter" stroke-linecap="butt"/>
<line x1="2074.22" y1="1401.24" x2="2157.30" y2="1448.45" stroke="#000" stroke-width="1.7" stroke-linecap="butt"/>
<line x1="2076.09" y1="1399.07" x2="2159.63" y2="1446.27" stroke="#000" stroke-width="1.7" stroke-linecap="butt"/>
<line x1="2166.61" y1="1451.71" x2="2227.95" y2="1418.79" stroke="#000" stroke-width="1.9" stroke-linecap="butt"/>
<line x1="2187.58" y1="1464.91" x2="2234.16" y2="1436.65" stroke="#000" stroke-width="1.9" stroke-linecap="butt"/>
<line x1="2052.48" y1="1504.50" x2="2153.42" y2="1450.16" stroke="#000" stroke-width="1.6" stroke-linecap="butt"/>
<line x1="2058.70" y1="1507.76" x2="2119.25" y2="1474.22" stroke="#000" stroke-width="1.6" stroke-linecap="butt"/>
<line x1="2153.42" y1="1450.16" x2="2166.61" y2="1451.71" stroke="#000" stroke-width="1.5" stroke-linecap="butt"/>
<polyline points="2092.08,1482.76 2092.08,1474.22 2097.52,1471.58 2104.04,1475.16" fill="none" stroke="#000" stroke-width="1.6" stroke-linejoin="miter" stroke-linecap="butt"/>
<polyline points="2094.41,1481.21 2094.41,1476.09 2098.29,1474.22" fill="none" stroke="#000" stroke-width="1.3" stroke-linejoin="miter" stroke-linecap="butt"/>
<polyline points="2130.12,1459.47 2130.12,1443.94 2135.56,1440.37 2140.22,1441.93" fill="none" stroke="#000" stroke-width="1.6" stroke-linejoin="miter" stroke-linecap="butt"/>
<polyline points="2134.78,1457.14 2134.47,1445.50 2140.22,1442.39" fill="none" stroke="#000" stroke-width="1.4" stroke-linejoin="miter" stroke-linecap="butt"/>
<polyline points="2081.99,1522.36 2081.99,1495.19" fill="none" stroke="#000" stroke-width="1.6" stroke-linejoin="miter" stroke-linecap="butt"/>
<polyline points="2087.89,1523.60 2087.89,1497.83 2083.23,1495.19 2098.29,1486.34 2103.73,1488.98 2103.73,1515.37" fill="none" stroke="#000" stroke-width="1.6" stroke-linejoin="miter" stroke-linecap="butt"/>
<line x1="2087.89" y1="1497.83" x2="2103.73" y2="1488.98" stroke="#000" stroke-width="1.6" stroke-linecap="butt"/>
<polyline points="2118.48,1474.22 2118.48,1506.83 2147.20,1490.53" fill="none" stroke="#000" stroke-width="1.6" stroke-linejoin="miter" stroke-linecap="butt"/>
<polyline points="2120.03,1473.45 2148.76,1489.29" fill="none" stroke="#000" stroke-width="1.6" stroke-linejoin="miter" stroke-linecap="butt"/>
<polyline points="2125.47,1471.89 2151.09,1486.65" fill="none" stroke="#000" stroke-width="1.6" stroke-linejoin="miter" stroke-linecap="butt"/>
<polyline points="2120.03,1473.45 2161.96,1450.62" fill="none" stroke="#000" stroke-width="1.5" stroke-linejoin="miter" stroke-linecap="butt"/>
<polyline points="2125.47,1471.89 2132.45,1474.22 2167.39,1454.35" fill="none" stroke="#000" stroke-width="1.5" stroke-linejoin="miter" stroke-linecap="butt"/>
<polyline points="2151.09,1486.65 2189.13,1465.22 2194.57,1470.34" fill="none" stroke="#000" stroke-width="1.5" stroke-linejoin="miter" stroke-linecap="butt"/>
<path d="M2148.76 1489.29 C2151.86 1492.08 2154.97 1491.61 2158.85 1489.75 L2192.24 1470.34" fill="none" stroke="#000" stroke-width="1.5" stroke-linejoin="round"/>
<polygon points="2128.26,1469.25 2137.27,1464.29 2140.37,1466.15 2131.37,1471.12" fill="none" stroke="#000" stroke-width="1.3" stroke-linejoin="miter" stroke-linecap="butt"/>
<polygon points="2139.75,1462.89 2148.76,1457.92 2151.86,1459.78 2142.86,1464.75" fill="none" stroke="#000" stroke-width="1.3" stroke-linejoin="miter" stroke-linecap="butt"/>
<polygon points="2151.55,1456.37 2160.56,1451.40 2163.66,1453.26 2154.66,1458.23" fill="none" stroke="#000" stroke-width="1.3" stroke-linejoin="miter" stroke-linecap="butt"/>
<polygon points="2163.04,1477.64 2172.05,1472.67 2175.16,1474.53 2166.15,1479.50" fill="none" stroke="#000" stroke-width="1.3" stroke-linejoin="miter" stroke-linecap="butt"/>
<polygon points="2175.47,1470.81 2184.47,1465.84 2187.58,1467.70 2178.57,1472.67" fill="none" stroke="#000" stroke-width="1.3" stroke-linejoin="miter" stroke-linecap="butt"/>
<path d="M2053.26 1509.16 L2081.99 1525.47 C2087.42 1528.57 2092.08 1528.88 2097.52 1526.24 Q2151.86 1496.74 2194.57 1470.34" fill="none" stroke="#000" stroke-width="1.9" stroke-linejoin="round"/>
<path d="M2058.70 1508.07 L2083.54 1521.58 C2087.42 1523.60 2090.53 1523.60 2094.41 1521.58 L2147.20 1490.53" fill="none" stroke="#000" stroke-width="1.6" stroke-linejoin="round"/>
<polyline points="2194.57,1470.34 2194.57,1572.05" fill="none" stroke="#000" stroke-width="1.9" stroke-linejoin="miter" stroke-linecap="butt"/>
<line x1="2201.15" y1="1507.61" x2="2215.12" y2="1487.58" stroke="#000" stroke-width="1.0" stroke-linecap="butt"/>
<line x1="2200.68" y1="1514.13" x2="2220.25" y2="1485.71" stroke="#000" stroke-width="1.0" stroke-linecap="butt"/>
<line x1="2208.14" y1="1510.87" x2="2221.65" y2="1490.37" stroke="#000" stroke-width="1.0" stroke-linecap="butt"/>
</g>
<text transform="translate(1813.31 1370.90) scale(1.1477 1)" font-family="'Liberation Sans', sans-serif" font-size="45.13" font-weight="400" fill="#000" stroke="#000" stroke-width="1.0" stroke-linejoin="round">40</text>
<text transform="translate(1884.70 1370.90) scale(1.1313 1)" font-family="'Liberation Sans', sans-serif" font-size="38.61" font-weight="400" fill="#000" stroke="#000" stroke-width="1.0" stroke-linejoin="round">mm</text>
<text transform="translate(2156.65 1366.10) scale(1.0700 1)" font-family="'Liberation Sans', sans-serif" font-size="45.42" font-weight="400" fill="#000" stroke="#000" stroke-width="1.0" stroke-linejoin="round">39</text>
<text transform="translate(2224.70 1366.10) scale(1.1203 1)" font-family="'Liberation Sans', sans-serif" font-size="38.99" font-weight="400" fill="#000" stroke="#000" stroke-width="1.0" stroke-linejoin="round">mm</text>
<text transform="translate(1839.75 1603.40) scale(0.9633 1)" font-family="'Liberation Sans', sans-serif" font-size="45.70" font-weight="400" fill="#000" stroke="#000" stroke-width="1.0" stroke-linejoin="round">12</text>
<text transform="translate(1903.52 1603.40) scale(1.1029 1)" font-family="'Liberation Sans', sans-serif" font-size="39.37" font-weight="400" fill="#000" stroke="#000" stroke-width="1.0" stroke-linejoin="round">mm</text>
<text transform="translate(2235.69 1608.50) scale(1.0484 1)" font-family="'Liberation Sans', sans-serif" font-size="45.27" font-weight="400" fill="#000" stroke="#000" stroke-width="1.0" stroke-linejoin="round">33</text>
<text transform="translate(2302.39 1608.50) scale(1.1347 1)" font-family="'Liberation Sans', sans-serif" font-size="38.61" font-weight="400" fill="#000" stroke="#000" stroke-width="1.0" stroke-linejoin="round">mm</text>
<line x1="154.50" y1="1721.00" x2="1137.00" y2="1721.00" stroke="#333" stroke-width="1.1" stroke-linecap="butt"/>
<line x1="298.30" y1="1621.60" x2="298.30" y2="1865.20" stroke="#333" stroke-width="1.1" stroke-linecap="butt"/>
<line x1="701.50" y1="1621.60" x2="701.50" y2="1865.20" stroke="#333" stroke-width="1.1" stroke-linecap="butt"/>
<text transform="translate(169.34 1657.15) scale(1.0458 1)" font-family="'Liberation Sans', sans-serif" font-size="36.05" font-weight="400" fill="#000" stroke="#000" stroke-width="1.3" stroke-linejoin="round">Size*</text>
<text transform="translate(318.87 1662.35) scale(1.0936 1)" font-family="'Liberation Sans', sans-serif" font-size="35.90" font-weight="400" fill="#000" stroke="#000" stroke-width="1.3" stroke-linejoin="round">X*min</text>
<text transform="translate(556.31 1662.35) scale(1.0359 1)" font-family="'Liberation Sans', sans-serif" font-size="35.90" font-weight="400" fill="#000" stroke="#000" stroke-width="1.3" stroke-linejoin="round">X*max</text>
<text transform="translate(733.29 1662.35) scale(1.0613 1)" font-family="'Liberation Sans', sans-serif" font-size="35.90" font-weight="400" fill="#000" stroke="#000" stroke-width="1.3" stroke-linejoin="round">X1*min</text>
<text transform="translate(983.13 1662.35) scale(1.0143 1)" font-family="'Liberation Sans', sans-serif" font-size="35.90" font-weight="400" fill="#000" stroke="#000" stroke-width="1.3" stroke-linejoin="round">X1*max</text>
<line x1="456.10" y1="1652.90" x2="532.00" y2="1652.90" stroke="#000" stroke-width="1.8" stroke-linecap="butt"/>
<polygon points="450.10,1652.90 464.60,1647.90 464.60,1657.90" fill="#000"/>
<polygon points="538.00,1652.90 523.50,1657.90 523.50,1647.90" fill="#000"/>
<line x1="890.20" y1="1652.90" x2="965.70" y2="1652.90" stroke="#000" stroke-width="1.8" stroke-linecap="butt"/>
<polygon points="884.20,1652.90 898.70,1647.90 898.70,1657.90" fill="#000"/>
<polygon points="971.70,1652.90 957.20,1657.90 957.20,1647.90" fill="#000"/>
<text transform="translate(187.20 1702.80) scale(1.1115 1)" font-family="'Liberation Sans', sans-serif" font-size="28.39" font-weight="400" fill="#000">mm</text>
<text transform="translate(357.33 1702.80) scale(1.0977 1)" font-family="'Liberation Sans', sans-serif" font-size="28.39" font-weight="400" fill="#000">mm</text>
<text transform="translate(606.00 1702.80) scale(1.1115 1)" font-family="'Liberation Sans', sans-serif" font-size="28.39" font-weight="400" fill="#000">mm</text>
<text transform="translate(783.04 1702.80) scale(1.0908 1)" font-family="'Liberation Sans', sans-serif" font-size="28.39" font-weight="400" fill="#000">mm</text>
<text transform="translate(1040.90 1702.80) scale(1.1115 1)" font-family="'Liberation Sans', sans-serif" font-size="28.39" font-weight="400" fill="#000">mm</text>
<text transform="translate(186.39 1776.70) scale(1.1187 1)" font-family="'Liberation Sans', sans-serif" font-size="29.08" font-weight="400" fill="#000">800</text>
<text transform="translate(185.74 1821.00) scale(1.1450 1)" font-family="'Liberation Sans', sans-serif" font-size="29.08" font-weight="400" fill="#000">900</text>
<text transform="translate(179.02 1865.70) scale(1.0726 1)" font-family="'Liberation Sans', sans-serif" font-size="29.08" font-weight="400" fill="#000">1000</text>
<text transform="translate(357.83 1776.70) scale(1.0500 1)" font-family="'Liberation Sans', sans-serif" font-size="29.08" font-weight="400" fill="#000">785</text>
<text transform="translate(358.07 1821.00) scale(1.0556 1)" font-family="'Liberation Sans', sans-serif" font-size="29.08" font-weight="400" fill="#000">885</text>
<text transform="translate(357.96 1865.70) scale(1.0579 1)" font-family="'Liberation Sans', sans-serif" font-size="29.08" font-weight="400" fill="#000">985</text>
<text transform="translate(606.77 1775.80) scale(1.0493 1)" font-family="'Liberation Sans', sans-serif" font-size="29.08" font-weight="400" fill="#000">800</text>
<text transform="translate(606.14 1819.90) scale(1.0733 1)" font-family="'Liberation Sans', sans-serif" font-size="29.08" font-weight="400" fill="#000">900</text>
<text transform="translate(599.14 1864.50) scale(1.0204 1)" font-family="'Liberation Sans', sans-serif" font-size="29.08" font-weight="400" fill="#000">1000</text>
<text transform="translate(781.98 1776.70) scale(1.0892 1)" font-family="'Liberation Sans', sans-serif" font-size="29.08" font-weight="400" fill="#000">765</text>
<text transform="translate(783.14 1821.00) scale(1.0752 1)" font-family="'Liberation Sans', sans-serif" font-size="29.08" font-weight="400" fill="#000">865</text>
<text transform="translate(782.52 1865.70) scale(1.0884 1)" font-family="'Liberation Sans', sans-serif" font-size="29.08" font-weight="400" fill="#000">965</text>
<text transform="translate(1040.58 1776.70) scale(1.0850 1)" font-family="'Liberation Sans', sans-serif" font-size="29.08" font-weight="400" fill="#000">780</text>
<text transform="translate(1041.14 1821.00) scale(1.0732 1)" font-family="'Liberation Sans', sans-serif" font-size="29.08" font-weight="400" fill="#000">880</text>
<text transform="translate(1040.51 1865.70) scale(1.0929 1)" font-family="'Liberation Sans', sans-serif" font-size="29.08" font-weight="400" fill="#000">980</text>
<line x1="155.00" y1="2058.50" x2="1322.60" y2="2058.50" stroke="#333" stroke-width="1.1" stroke-linecap="butt"/>
<line x1="298.30" y1="1962.20" x2="298.30" y2="2243.20" stroke="#333" stroke-width="1.1" stroke-linecap="butt"/>
<line x1="468.40" y1="1962.20" x2="468.40" y2="2243.20" stroke="#333" stroke-width="1.1" stroke-linecap="butt"/>
<line x1="902.20" y1="1962.20" x2="902.20" y2="2243.20" stroke="#333" stroke-width="1.1" stroke-linecap="butt"/>
<text transform="translate(169.33 1999.25) scale(1.0531 1)" font-family="'Liberation Sans', sans-serif" font-size="36.05" font-weight="400" fill="#000" stroke="#000" stroke-width="1.3" stroke-linejoin="round">Size*</text>
<text transform="translate(370.90 1999.25) scale(0.9203 1)" font-family="'Liberation Sans', sans-serif" font-size="35.90" font-weight="400" fill="#000" stroke="#000" stroke-width="1.3" stroke-linejoin="round">Z</text>
<text transform="translate(504.99 1999.25) scale(1.0869 1)" font-family="'Liberation Sans', sans-serif" font-size="35.90" font-weight="400" fill="#000" stroke="#000" stroke-width="1.3" stroke-linejoin="round">Y*min</text>
<text transform="translate(742.93 1999.05) scale(1.0386 1)" font-family="'Liberation Sans', sans-serif" font-size="35.90" font-weight="400" fill="#000" stroke="#000" stroke-width="1.3" stroke-linejoin="round">Y*max</text>
<text transform="translate(915.81 2001.65) scale(1.0647 1)" font-family="'Liberation Sans', sans-serif" font-size="35.90" font-weight="400" fill="#000" stroke="#000" stroke-width="1.3" stroke-linejoin="round">Y1*min</text>
<text transform="translate(1167.54 2001.65) scale(1.0303 1)" font-family="'Liberation Sans', sans-serif" font-size="35.90" font-weight="400" fill="#000" stroke="#000" stroke-width="1.3" stroke-linejoin="round">Y1*max</text>
<line x1="643.10" y1="1989.90" x2="718.80" y2="1989.90" stroke="#000" stroke-width="1.8" stroke-linecap="butt"/>
<polygon points="637.10,1989.90 651.60,1984.90 651.60,1994.90" fill="#000"/>
<polygon points="724.80,1989.90 710.30,1994.90 710.30,1984.90" fill="#000"/>
<line x1="1074.40" y1="1990.40" x2="1150.50" y2="1990.40" stroke="#000" stroke-width="1.8" stroke-linecap="butt"/>
<polygon points="1068.40,1990.40 1082.90,1985.40 1082.90,1995.40" fill="#000"/>
<polygon points="1156.50,1990.40 1142.00,1995.40 1142.00,1985.40" fill="#000"/>
<text transform="translate(177.90 2044.20) scale(1.1115 1)" font-family="'Liberation Sans', sans-serif" font-size="28.39" font-weight="400" fill="#000">mm</text>
<text transform="translate(364.07 2044.20) scale(1.0770 1)" font-family="'Liberation Sans', sans-serif" font-size="28.39" font-weight="400" fill="#000">mm</text>
<text transform="translate(543.73 2044.20) scale(1.0977 1)" font-family="'Liberation Sans', sans-serif" font-size="28.39" font-weight="400" fill="#000">mm</text>
<text transform="translate(774.82 2044.40) scale(1.1023 1)" font-family="'Liberation Sans', sans-serif" font-size="28.39" font-weight="400" fill="#000">mm</text>
<text transform="translate(966.22 2040.40) scale(1.1046 1)" font-family="'Liberation Sans', sans-serif" font-size="28.39" font-weight="400" fill="#000">mm</text>
<text transform="translate(1226.30 2040.40) scale(1.1161 1)" font-family="'Liberation Sans', sans-serif" font-size="28.39" font-weight="400" fill="#000">mm</text>
<text transform="translate(177.71 2114.60) scale(1.1014 1)" font-family="'Liberation Sans', sans-serif" font-size="29.08" font-weight="400" fill="#000">800</text>
<text transform="translate(176.96 2158.70) scale(1.1298 1)" font-family="'Liberation Sans', sans-serif" font-size="29.08" font-weight="400" fill="#000">900</text>
<text transform="translate(169.51 2203.00) scale(1.0775 1)" font-family="'Liberation Sans', sans-serif" font-size="29.08" font-weight="400" fill="#000">1000</text>
<text transform="translate(324.31 2113.80) scale(1.0216 1)" font-family="'Liberation Sans', sans-serif" font-size="29.08" font-weight="400" fill="#000">535 - 540</text>
<text transform="translate(323.98 2156.70) scale(1.0268 1)" font-family="'Liberation Sans', sans-serif" font-size="29.08" font-weight="400" fill="#000">635 - 640</text>
<text transform="translate(324.49 2199.30) scale(1.0103 1)" font-family="'Liberation Sans', sans-serif" font-size="29.08" font-weight="400" fill="#000">735 - 740</text>
<text transform="translate(543.61 2114.60) scale(1.0676 1)" font-family="'Liberation Sans', sans-serif" font-size="29.08" font-weight="400" fill="#000">780</text>
<text transform="translate(544.17 2158.70) scale(1.0559 1)" font-family="'Liberation Sans', sans-serif" font-size="29.08" font-weight="400" fill="#000">880</text>
<text transform="translate(543.53 2203.00) scale(1.0755 1)" font-family="'Liberation Sans', sans-serif" font-size="29.08" font-weight="400" fill="#000">980</text>
<text transform="translate(797.99 2114.60) scale(1.1122 1)" font-family="'Liberation Sans', sans-serif" font-size="29.08" font-weight="400" fill="#000">800</text>
<text transform="translate(797.14 2158.70) scale(1.1450 1)" font-family="'Liberation Sans', sans-serif" font-size="29.08" font-weight="400" fill="#000">900</text>
<text transform="translate(789.71 2203.00) scale(1.0791 1)" font-family="'Liberation Sans', sans-serif" font-size="29.08" font-weight="400" fill="#000">1000</text>
<text transform="translate(968.39 2114.60) scale(1.0829 1)" font-family="'Liberation Sans', sans-serif" font-size="29.08" font-weight="400" fill="#000">770</text>
<text transform="translate(969.25 2158.70) scale(1.0645 1)" font-family="'Liberation Sans', sans-serif" font-size="29.08" font-weight="400" fill="#000">870</text>
<text transform="translate(968.52 2203.00) scale(1.0864 1)" font-family="'Liberation Sans', sans-serif" font-size="29.08" font-weight="400" fill="#000">970</text>
<text transform="translate(1223.36 2114.60) scale(1.0981 1)" font-family="'Liberation Sans', sans-serif" font-size="29.08" font-weight="400" fill="#000">790</text>
<text transform="translate(1224.03 2158.70) scale(1.0840 1)" font-family="'Liberation Sans', sans-serif" font-size="29.08" font-weight="400" fill="#000">890</text>
<text transform="translate(1223.50 2203.00) scale(1.1038 1)" font-family="'Liberation Sans', sans-serif" font-size="29.08" font-weight="400" fill="#000">990</text>
<text transform="translate(1629.95 1885.00) scale(1.1163 1)" font-family="'Liberation Sans', sans-serif" font-size="22.15" font-weight="400" fill="#000" stroke="#000" stroke-width="0.6" stroke-linejoin="round">abhängig von Varianten</text>
<text transform="translate(1629.73 1907.69) scale(0.9835 1)" font-family="'Liberation Sans', sans-serif" font-size="23.47" font-weight="400" fill="#000" stroke="#fff" stroke-width="0.35">depends on the variants</text>
<text transform="translate(1629.73 1930.08) scale(0.9833 1)" font-family="'Liberation Sans', sans-serif" font-size="23.47" font-weight="400" fill="#000" stroke="#fff" stroke-width="0.35">dépend des variantes</text>
<text transform="translate(1629.11 1952.47) scale(0.9796 1)" font-family="'Liberation Sans', sans-serif" font-size="23.47" font-weight="400" fill="#000" stroke="#fff" stroke-width="0.35">hangt af van de varianten</text>
<text x="1629.71" y="1974.86" font-family="'Liberation Sans', sans-serif" font-size="23.47" font-weight="400" fill="#000" stroke="#fff" stroke-width="0.35">dipende dalle varianti</text>
<text transform="translate(1629.73 1997.25) scale(0.9829 1)" font-family="'Liberation Sans', sans-serif" font-size="23.47" font-weight="400" fill="#000" stroke="#fff" stroke-width="0.35">depende de las variantes</text>
<text transform="translate(1629.77 2019.64) scale(0.9769 1)" font-family="'Liberation Sans', sans-serif" font-size="23.47" font-weight="400" fill="#000" stroke="#fff" stroke-width="0.35">zależy od wariantów</text>
<text transform="translate(1629.79 2042.03) scale(0.9574 1)" font-family="'Liberation Sans', sans-serif" font-size="23.47" font-weight="400" fill="#000" stroke="#fff" stroke-width="0.35">záleží na variantách</text>
<text transform="translate(1629.78 2064.42) scale(0.9651 1)" font-family="'Liberation Sans', sans-serif" font-size="23.47" font-weight="400" fill="#000" stroke="#fff" stroke-width="0.35">závisí od variantov</text>
<text transform="translate(1630.17 2086.81) scale(0.9435 1)" font-family="'Liberation Sans', sans-serif" font-size="23.47" font-weight="400" fill="#000" stroke="#fff" stroke-width="0.35">зависит от вариантов</text>
<text transform="translate(1629.21 2109.20) scale(0.9826 1)" font-family="'Liberation Sans', sans-serif" font-size="23.47" font-weight="400" fill="#000" stroke="#fff" stroke-width="0.35">beror på varianterna</text>
<text transform="translate(1629.72 2131.59) scale(0.9808 1)" font-family="'Liberation Sans', sans-serif" font-size="23.47" font-weight="400" fill="#000" stroke="#fff" stroke-width="0.35">afhænger af varianterne</text>
<text transform="translate(1630.62 2153.98) scale(0.9803 1)" font-family="'Liberation Sans', sans-serif" font-size="23.47" font-weight="400" fill="#000" stroke="#fff" stroke-width="0.35">változatok tól függ</text>
<text x="1630.86" y="2176.60" font-family="'Liberation Sans', 'Noto Sans CJK SC', sans-serif" font-size="24.60" font-weight="400" fill="#000" stroke="#fff" stroke-width="0.3">取决于变体</text>
<text transform="translate(1599.79 1894.60) scale(0.9513 1)" font-family="'Liberation Sans', sans-serif" font-size="40.00" font-weight="400" fill="#000" stroke="#000" stroke-width="1.2" stroke-linejoin="round">*</text>
<polyline points="2128.42,2132.39 2128.42,1808.63 2133.31,1805.37 2139.13,1808.63" fill="none" stroke="#111" stroke-width="1.7" stroke-linejoin="miter" stroke-linecap="butt"/>
<polyline points="2128.42,1808.63 2134.94,1812.59 2139.13,1809.80" fill="none" stroke="#111" stroke-width="1.6" stroke-linejoin="miter" stroke-linecap="butt"/>
<line x1="2134.94" y1="1812.59" x2="2134.94" y2="2136.35" stroke="#111" stroke-width="1.7" stroke-linecap="butt"/>
<line x1="2137.50" y1="1814.46" x2="2137.50" y2="2134.72" stroke="#111" stroke-width="2.2" stroke-linecap="butt"/>
<line x1="2140.99" y1="1817.48" x2="2140.99" y2="2131.23" stroke="#111" stroke-width="1.7" stroke-linecap="butt"/>
<polyline points="2128.42,2132.39 2134.94,2136.35" fill="none" stroke="#111" stroke-width="1.7" stroke-linejoin="miter" stroke-linecap="butt"/>
<line x1="2139.13" y1="1809.10" x2="2271.20" y2="1884.33" stroke="#111" stroke-width="1.7" stroke-linecap="butt"/>
<line x1="2134.94" y1="1813.06" x2="2266.54" y2="1888.99" stroke="#111" stroke-width="1.7" stroke-linecap="butt"/>
<line x1="2140.99" y1="1817.95" x2="2266.54" y2="1890.62" stroke="#111" stroke-width="1.5" stroke-linecap="butt"/>
<polyline points="2159.39,1829.13 2159.39,1837.75 2161.96,1839.38 2164.52,1837.75 2164.52,1831.93" fill="#999" stroke="#111" stroke-width="1.5" stroke-linejoin="miter" stroke-linecap="butt"/>
<polygon points="2159.39,2137.05 2159.39,2145.20 2161.96,2146.37 2164.52,2145.20 2164.52,2137.05 2161.96,2134.26" fill="#999" stroke="#111" stroke-width="1.5" stroke-linejoin="miter" stroke-linecap="butt"/>
<line x1="2134.94" y1="2136.35" x2="2266.54" y2="2212.05" stroke="#111" stroke-width="1.7" stroke-linecap="butt"/>
<line x1="2137.27" y1="2133.56" x2="2266.54" y2="2208.09" stroke="#111" stroke-width="3.0" stroke-linecap="butt"/>
<line x1="2140.99" y1="2130.76" x2="2266.54" y2="2202.97" stroke="#111" stroke-width="1.7" stroke-linecap="butt"/>
<polyline points="2266.54,2212.05 2266.54,1888.99 2271.20,1883.63 2277.02,1888.99 2277.02,2212.75" fill="#fff" stroke="#111" stroke-width="1.7" stroke-linejoin="miter" stroke-linecap="butt"/>
<line x1="2271.20" y1="1890.16" x2="2271.20" y2="2215.78" stroke="#111" stroke-width="1.7" stroke-linecap="butt"/>
<polyline points="2266.54,1888.99 2271.66,1891.32 2277.02,1888.99" fill="none" stroke="#111" stroke-width="1.5" stroke-linejoin="miter" stroke-linecap="butt"/>
<polyline points="2266.54,2212.05 2271.90,2216.25 2277.02,2212.75" fill="none" stroke="#111" stroke-width="1.7" stroke-linejoin="miter" stroke-linecap="butt"/>
<line x1="2277.02" y1="1888.29" x2="2393.95" y2="1820.28" stroke="#111" stroke-width="2.2" stroke-linecap="butt"/>
<line x1="2277.02" y1="2212.75" x2="2394.65" y2="2145.20" stroke="#111" stroke-width="1.7" stroke-linecap="butt"/>
<polyline points="2394.65,2145.20 2394.65,1819.81 2397.67,1815.62 2400.00,1817.48 2400.00,2143.57 2394.65,2145.90" fill="none" stroke="#111" stroke-width="1.7" stroke-linejoin="miter" stroke-linecap="butt"/>
<g transform="translate(2256.1 2044.1) rotate(-27)"><rect x="-1.5" y="-4.2" width="9" height="8.4" rx="4" ry="4.2" fill="#000"/><ellipse cx="-1.8" cy="0" rx="2.6" ry="3.6" fill="#fff" stroke="#000" stroke-width="1.6"/></g>
<text transform="scale(1.0347 1)" x="1998.11 2069.95 2129.55 2193.59 2257.67" y="2397.20" font-family="'Liberation Sans', sans-serif" font-size="104.65" font-weight="400" fill="#000" stroke="#000" stroke-width="3.0" stroke-linejoin="miter">NT604</text>
</svg>
</body>
</html>
